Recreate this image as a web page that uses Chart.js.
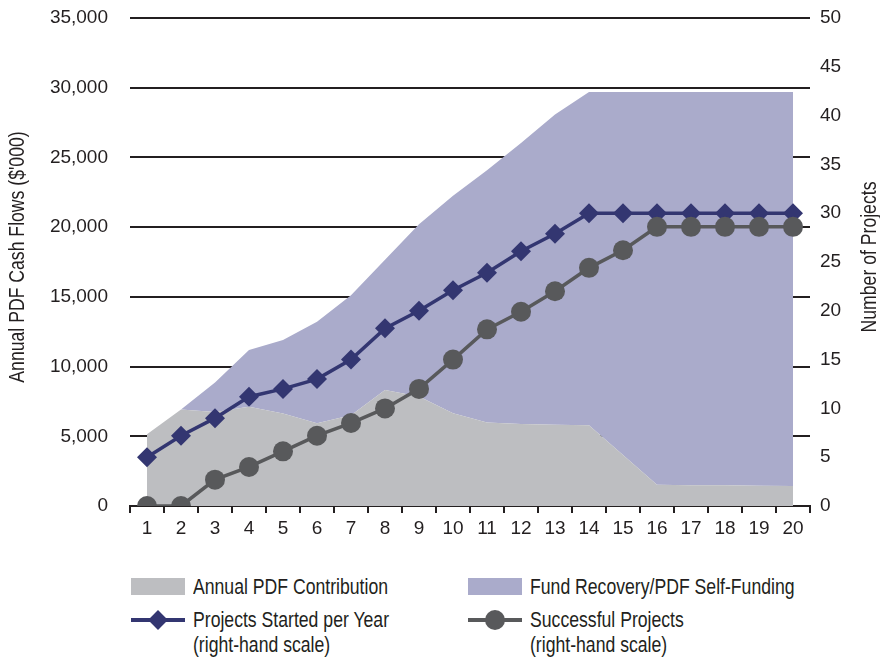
<!DOCTYPE html>
<html>
<head>
<meta charset="utf-8">
<script src="https://cdn.jsdelivr.net/npm/chart.js@4.4.1/dist/chart.umd.min.js"></script>
<style>
  html, body { margin: 0; padding: 0; background: #fff; }
  #wrap { position: relative; width: 880px; height: 660px; overflow: hidden;
          font-family: "Liberation Sans", Arial, sans-serif; color: #231f20; }
  #chart { position: absolute; left: 0; top: 0; }
  .key { position: absolute; }
  .txt { position: absolute; font-size: 21.5px; line-height: 25px; white-space: nowrap;
         transform: scaleX(0.82); transform-origin: 0 0; }
</style>
</head>
<body>
<div id="wrap">
  <canvas id="chart" width="880" height="560"></canvas>
  <div id="legend"></div>
</div>
<script>
const years = ['1', '2', '3', '4', '5', '6', '7', '8', '9', '10',
               '11', '12', '13', '14', '15', '16', '17', '18', '19', '20'];

// $'000, stacked areas
const pdfContribution = [5150, 6930, 6750, 7120, 6640, 5930, 6500, 8320, 7850, 6650,
                         5980, 5880, 5830, 5790, 3660, 1530, 1480, 1480, 1450, 1430];
const fundRecovery = [0, 0, 2100, 4070, 5260, 7290, 8620, 9340, 12350, 15600,
                      18100, 20150, 22250, 23910, 26040, 28170, 28220, 28220, 28250, 28270];

// number of projects, right-hand scale
const projectsStarted = [5, 7.2, 9, 11.2, 12, 13, 15, 18.2, 20, 22.1,
                         23.9, 26.1, 27.9, 30, 30, 30, 30, 30, 30, 30];
const successfulProjects = [0, 0, 2.7, 4, 5.6, 7.2, 8.5, 10, 12, 15,
                            18.1, 19.9, 22, 24.4, 26.2, 28.6, 28.6, 28.6, 28.6, 28.6];

const cashTicks = [0, 5000, 10000, 15000, 20000, 25000, 30000, 35000];
const projectTicks = [0, 5, 10, 15, 20, 25, 30, 35, 40, 45, 50];

const seriesNames = ['Annual PDF Contribution', 'Fund Recovery/PDF Self-Funding',
                     'Projects Started per Year', 'Successful Projects'];
const scaleNote = '(right-hand scale)';
const leftTitle = "Annual PDF Cash Flows ($'000)";
const rightTitle = 'Number of Projects';

const grayFill = '#bdbec1';
const purpleFill = '#aaabcb';
const navy = '#333671';
const darkGray = '#58595b';
const ink = '#231f20';
const fontFamily = '"Liberation Sans", Arial, sans-serif';

Chart.defaults.font.family = fontFamily;
Chart.defaults.font.size = 19;
Chart.defaults.color = ink;

// both titles read bottom-to-top, in a narrowed face
const axisTitles = {
    id: 'axisTitles',
    afterDraw(chart) {
        const ctx = chart.ctx;
        ctx.save();
        ctx.font = '21.5px ' + fontFamily;
        ctx.fillStyle = ink;
        ctx.textAlign = 'center';
        ctx.textBaseline = 'middle';
        [[18, leftTitle], [870, rightTitle]].forEach(([x, t]) => {
            ctx.save();
            ctx.translate(x, 257);
            ctx.rotate(-Math.PI / 2);
            ctx.scale(0.82, 1);
            ctx.fillText(t, 0, 0);
            ctx.restore();
        });
        ctx.restore();
    }
};

new Chart(document.getElementById('chart'), {
    type: 'line',
    data: {
        labels: years,
        datasets: [
            { label: seriesNames[0], data: pdfContribution, yAxisID: 'y', order: 2,
              fill: 'origin', backgroundColor: grayFill, borderWidth: 0, pointRadius: 0 },
            { label: seriesNames[1], data: fundRecovery, yAxisID: 'y', order: 3,
              fill: '-1', backgroundColor: purpleFill, borderWidth: 0, pointRadius: 0 },
            { label: seriesNames[2], data: projectsStarted, yAxisID: 'y1', order: 1,
              borderColor: navy, borderWidth: 3.5, pointStyle: 'rectRot', pointRadius: 10,
              pointBackgroundColor: navy, pointBorderWidth: 0 },
            { label: seriesNames[3], data: successfulProjects, yAxisID: 'y1', order: 0,
              borderColor: darkGray, borderWidth: 3.5, pointStyle: 'circle', pointRadius: 10,
              pointBackgroundColor: darkGray, pointBorderWidth: 0 }
        ]
    },
    options: {
        responsive: false,
        animation: false,
        layout: { padding: { top: 18, left: 0, right: 0, bottom: 0 } },
        plugins: { legend: { display: false }, tooltip: { enabled: false } },
        elements: { line: { tension: 0 } },
        scales: {
            x: {
                offset: true,
                grid: { offset: true, drawOnChartArea: false, color: ink, lineWidth: 2, tickLength: 7 },
                border: { display: true, color: ink, width: 2 },
                ticks: { padding: 4, maxRotation: 0, autoSkip: false },
                afterFit: s => { s.height = 54; s.paddingLeft = 0; s.paddingRight = 0; }
            },
            y: {
                position: 'left',
                stacked: true,
                min: cashTicks[0],
                max: cashTicks[cashTicks.length - 1],
                afterBuildTicks: s => { s.ticks = cashTicks.map(v => ({ value: v })); },
                grid: { color: ink, lineWidth: 2, drawTicks: false },
                border: { display: false },
                ticks: { padding: 22, callback: v => v.toLocaleString('en-US') },
                afterFit: s => { s.width = 130; s.paddingTop = 0; s.paddingBottom = 0; }
            },
            y1: {
                position: 'right',
                min: projectTicks[0],
                max: projectTicks[projectTicks.length - 1],
                afterBuildTicks: s => { s.ticks = projectTicks.map(v => ({ value: v })); },
                grid: { drawOnChartArea: false, drawTicks: false },
                border: { display: false },
                ticks: { padding: 10 },
                afterFit: s => { s.width = 70; s.paddingTop = 0; s.paddingBottom = 0; }
            }
        }
    },
    plugins: [axisTitles]
});

// legend below the chart, two columns; keyY is the centre of the key mark
const legendKeys = [
    { name: seriesNames[0], kind: 'box', color: grayFill, x: 131, y: 575, keyY: 587 },
    { name: seriesNames[1], kind: 'box', color: purpleFill, x: 468, y: 575, keyY: 587 },
    { name: seriesNames[2], kind: 'diamond', color: navy, x: 131, y: 608, keyY: 620 },
    { name: seriesNames[3], kind: 'circle', color: darkGray, x: 468, y: 608, keyY: 620 }
];
const legend = document.getElementById('legend');
legendKeys.forEach(k => {
    let html = '';
    if (k.kind === 'box') {
        html += `<div class="key" style="left:${k.x}px;top:${k.keyY - 9}px;width:54px;height:17px;background:${k.color}"></div>`;
    } else {
        html += `<div class="key" style="left:${k.x}px;top:${k.keyY - 2}px;width:54px;height:4px;background:${k.color}"></div>`;
        if (k.kind === 'diamond') {
            html += `<div class="key" style="left:${k.x + 20}px;top:${k.keyY - 7}px;width:14px;height:14px;background:${k.color};transform:rotate(45deg)"></div>`;
        } else {
            html += `<div class="key" style="left:${k.x + 17}px;top:${k.keyY - 10}px;width:20px;height:20px;border-radius:50%;background:${k.color}"></div>`;
        }
    }
    const label = k.kind === 'box' ? k.name : k.name + '<br>' + scaleNote;
    html += `<div class="txt" style="left:${k.x + 62}px;top:${k.y}px">${label}</div>`;
    legend.insertAdjacentHTML('beforeend', html);
});
</script>
</body>
</html>
